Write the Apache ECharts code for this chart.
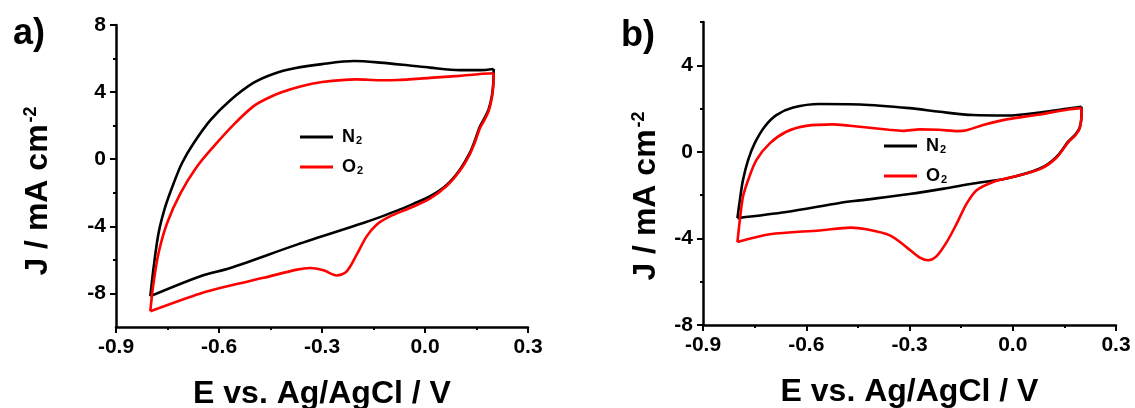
<!DOCTYPE html>
<html>
<head>
<meta charset="utf-8">
<script src="https://cdn.jsdelivr.net/npm/echarts@6/dist/echarts.min.js"></script>
<style>
html,body{margin:0;padding:0;background:#fff;}
#chart{width:1135px;height:408px;}
</style>
</head>
<body>
<div id="chart"></div>
<script>
// ---- tick values ----
const xTicks = [-0.9, -0.6, -0.3, 0.0, 0.3];
const yTicksA = [-8, -4, 0, 4, 8];
const yMinorA = [-6, -2, 2, 6];
const yTicksB = [-8, -4, 0, 4];
const yMinorB = [-6, -2, 2, 6];
const seriesNames = ['N2', 'O2'];

// ---- panel a) : [E (V), J (mA cm-2)] ----
const aN2Anodic = [[-0.8,-8.16],[-0.79,-6.38],[-0.776,-4.4],[-0.756,-2.8],[-0.732,-1.43],[-0.708,-0.24],[-0.674,0.95],[-0.625,2.33],[-0.567,3.52],[-0.5,4.55],[-0.44,5.1],[-0.38,5.42],[-0.3,5.67],[-0.207,5.85],[-0.131,5.76],[-0.05,5.6],[0.014,5.46],[0.101,5.31],[0.16,5.31],[0.2,5.38]];
const aN2Cathodic = [[0.2,5.38],[0.199,4.6],[0.195,3.8],[0.185,2.95],[0.172,2.4],[0.16,1.95],[0.145,1.1],[0.13,0.36],[0.101,-0.64],[0.063,-1.53],[0.014,-2.22],[-0.034,-2.66],[-0.083,-3.08],[-0.131,-3.45],[-0.18,-3.8],[-0.373,-5.09],[-0.567,-6.48],[-0.654,-6.97],[-0.8,-8.16]];
const aO2Anodic = [[-0.8,-9.06],[-0.792,-7.57],[-0.776,-5.59],[-0.751,-3.8],[-0.712,-2.02],[-0.664,-0.44],[-0.616,0.75],[-0.558,2.05],[-0.5,3.15],[-0.46,3.62],[-0.42,3.98],[-0.36,4.35],[-0.3,4.6],[-0.2,4.76],[-0.131,4.71],[-0.08,4.72],[0.014,4.85],[0.1,4.97],[0.16,5.08],[0.2,5.12]];
const aO2Cathodic = [[0.2,5.12],[0.199,4.4],[0.195,3.7],[0.185,2.85],[0.172,2.3],[0.16,1.85],[0.145,1.0],[0.13,0.28],[0.101,-0.7],[0.063,-1.6],[0.014,-2.35],[-0.044,-2.91],[-0.102,-3.41],[-0.141,-3.9],[-0.17,-4.6],[-0.199,-5.69],[-0.228,-6.68],[-0.257,-6.93],[-0.296,-6.62],[-0.335,-6.48],[-0.373,-6.58],[-0.47,-7.07],[-0.567,-7.53],[-0.654,-8.0],[-0.8,-9.06]];

// ---- panel b) ----
const bN2Anodic = [[-0.8,-3.06],[-0.793,-2.24],[-0.784,-1.31],[-0.769,-0.38],[-0.75,0.39],[-0.721,1.16],[-0.687,1.7],[-0.638,2.05],[-0.561,2.21],[-0.444,2.19],[-0.3,2.02],[-0.212,1.85],[-0.115,1.7],[-0.018,1.68],[0.079,1.82],[0.161,2.0],[0.2,2.08]];
const bN2Cathodic = [[0.2,2.08],[0.199,1.5],[0.194,1.1],[0.183,0.82],[0.161,0.47],[0.127,-0.23],[0.079,-0.77],[-0.018,-1.23],[-0.115,-1.46],[-0.2,-1.7],[-0.3,-1.95],[-0.444,-2.24],[-0.503,-2.36],[-0.658,-2.78],[-0.8,-3.06]];
const bO2Anodic = [[-0.8,-4.17],[-0.793,-3.16],[-0.784,-2.08],[-0.769,-1.31],[-0.745,-0.38],[-0.706,0.39],[-0.658,0.93],[-0.6,1.2],[-0.522,1.27],[-0.444,1.16],[-0.36,1.02],[-0.32,0.97],[-0.27,1.04],[-0.215,1.02],[-0.16,0.96],[-0.134,1.0],[-0.086,1.24],[-0.018,1.5],[0.079,1.73],[0.161,1.96],[0.2,2.02]];
const bO2Cathodic = [[0.2,2.02],[0.199,1.47],[0.194,1.07],[0.183,0.79],[0.161,0.44],[0.127,-0.27],[0.079,-0.8],[-0.008,-1.19],[-0.057,-1.39],[-0.105,-1.77],[-0.134,-2.39],[-0.163,-3.32],[-0.192,-4.17],[-0.222,-4.83],[-0.246,-5.01],[-0.27,-4.89],[-0.309,-4.4],[-0.357,-3.86],[-0.425,-3.58],[-0.47,-3.5],[-0.561,-3.63],[-0.706,-3.81],[-0.8,-4.17]];

const FONT = "'Liberation Sans', Arial, sans-serif";
const colors = {N2: '#000000', O2: '#ff0000'};

function xAxisFor(gi) {
  return {
    gridIndex: gi, type: 'value', min: -0.9, max: 0.3, interval: 0.3,
    name: 'E vs. Ag/AgCl / V', nameLocation: 'middle', nameGap: 51,
    nameTextStyle: {fontFamily: FONT, fontWeight: 'bold', fontSize: 32, color: '#000'},
    axisLine: {show: true, onZero: false, lineStyle: {color: '#000', width: 2.5}},
    axisTick: {show: true, length: 6, lineStyle: {color: '#000', width: 2}},
    minorTick: {show: true, splitNumber: 2, length: 3, lineStyle: {color: '#000', width: 2}},
    axisLabel: {fontFamily: FONT, fontWeight: 'bold', fontSize: 21, color: '#000', margin: 10,
      formatter: v => (Math.abs(v) < 1e-9 ? 0 : v).toFixed(1)},
    splitLine: {show: false}, minorSplitLine: {show: false}
  };
}
function yAxisMain(gi, min, max, ticks, gap, pad) {
  return {
    gridIndex: gi, type: 'value', min: min, max: max, position: 'left',
    name: '{m|J / mA cm}{s|-2}', nameLocation: 'middle', nameRotate: 90, nameGap: gap,
    nameTextStyle: {padding: [0, pad, 0, 0], rich: {
      m: {fontFamily: FONT, fontWeight: 'bold', fontSize: 32, color: '#000', lineHeight: 32, verticalAlign: 'bottom'},
      s: {fontFamily: FONT, fontWeight: 'bold', fontSize: 18, color: '#000', lineHeight: 18, verticalAlign: 'top', padding: [0, 0, 18, 2]}
    }},
    axisLine: {show: true, onZero: false, lineStyle: {color: '#000', width: 2.5}},
    axisTick: {show: true, length: 6, customValues: ticks, lineStyle: {color: '#000', width: 2}},
    axisLabel: {customValues: ticks, fontFamily: FONT, fontWeight: 'bold', fontSize: 21, color: '#000', margin: 10},
    splitLine: {show: false}
  };
}
function yAxisMinor(gi, min, max, ticks) {
  return {
    gridIndex: gi, type: 'value', min: min, max: max, position: 'left',
    axisLine: {show: false, onZero: false},
    axisTick: {show: true, length: 3, customValues: ticks, lineStyle: {color: '#000', width: 2}},
    axisLabel: {show: false}, splitLine: {show: false}
  };
}
function mk(name, data, xi, yi) {
  return {
    type: 'line', name: name, data: data, xAxisIndex: xi, yAxisIndex: yi,
    showSymbol: false, smooth: 0.3,
    lineStyle: {color: colors[name], width: 2.6}, itemStyle: {color: colors[name]},
    z: name === 'O2' ? 3 : 2, animation: false
  };
}
const legendRich = {
  n: {fontFamily: FONT, fontWeight: 'bold', fontSize: 18, color: '#000', lineHeight: 18, verticalAlign: 'top', padding: [0, 0, 0, 4]},
  sub: {fontFamily: FONT, fontWeight: 'bold', fontSize: 11, color: '#000', lineHeight: 11, verticalAlign: 'bottom', padding: [12, 0, 0, 1]}
};
function legendFor(left, top) {
  return {
    data: seriesNames, orient: 'vertical', left: left, top: top,
    icon: 'rect', itemWidth: 33, itemHeight: 3, itemGap: 7, padding: 0,
    formatter: n => '{n|' + n.charAt(0) + '}{sub|' + n.slice(1) + '}',
    textStyle: {rich: legendRich}, selectedMode: false
  };
}

const chart = echarts.init(document.getElementById('chart'), null, {renderer: 'canvas'});
chart.setOption({
  backgroundColor: '#fff',
  animation: false,
  title: [
    {text: 'a)', left: 8, top: 11, textStyle: {fontFamily: FONT, fontWeight: 'bold', fontSize: 36, color: '#000'}},
    {text: 'b)', left: 616, top: 13, textStyle: {fontFamily: FONT, fontWeight: 'bold', fontSize: 36, color: '#000'}}
  ],
  legend: [legendFor(300, 123), legendFor(884, 132)],
  grid: [
    {left: 116, right: 607, top: 25, bottom: 81, containLabel: false, outerBoundsMode: 'none'},
    {left: 703, right: 19, top: 22, bottom: 83, containLabel: false, outerBoundsMode: 'none'}
  ],
  xAxis: [xAxisFor(0), xAxisFor(1)],
  yAxis: [
    yAxisMain(0, -10, 8, yTicksA, 62, 30),
    yAxisMinor(0, -10, 8, yMinorA),
    yAxisMain(1, -8, 6, yTicksB, 41, 45),
    yAxisMinor(1, -8, 6, yMinorB)
  ],
  series: [
    mk('N2', aN2Anodic, 0, 0), mk('N2', aN2Cathodic, 0, 0),
    mk('O2', aO2Anodic, 0, 0), mk('O2', aO2Cathodic, 0, 0),
    mk('N2', bN2Anodic, 1, 2), mk('N2', bN2Cathodic, 1, 2),
    mk('O2', bO2Anodic, 1, 2), mk('O2', bO2Cathodic, 1, 2)
  ]
});
</script>
</body>
</html>
